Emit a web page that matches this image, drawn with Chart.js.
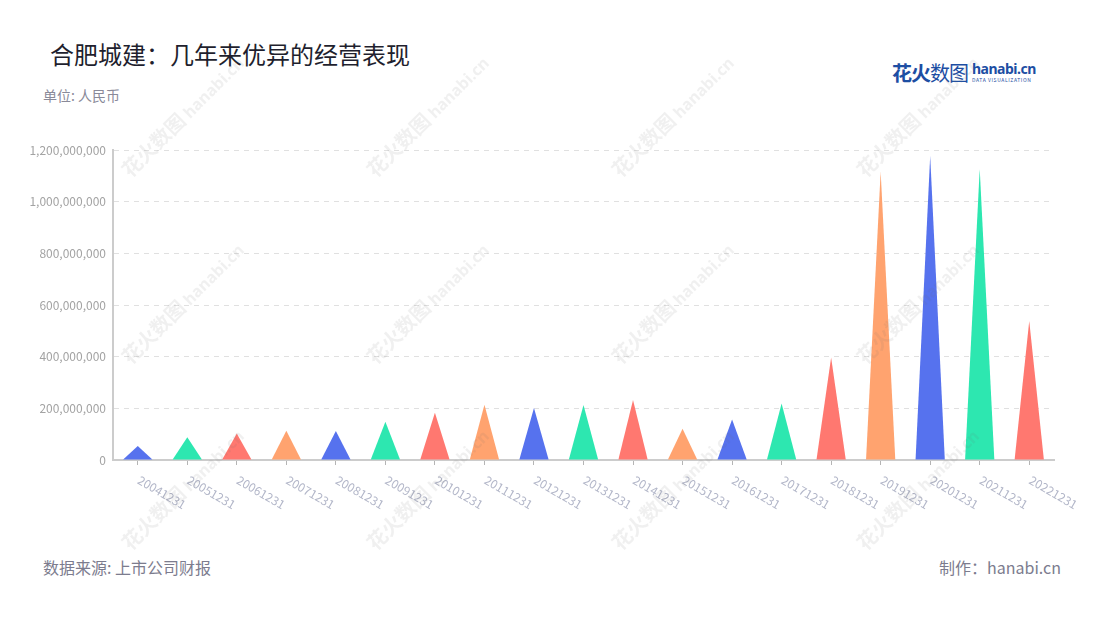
<!DOCTYPE html>
<html>
<head>
<meta charset="utf-8">
<script src="https://cdn.jsdelivr.net/npm/chart.js@4.4.0/dist/chart.umd.min.js"></script>
<style>
    body {
        margin: 0;
        background: #fff;
        font-family: "Noto Sans CJK SC", "Noto Sans", sans-serif;
    }
    .page {
        position: relative;
        width: 1100px;
        height: 620px;
        overflow: hidden;
        background: #fff;
    }
    .title {
        position: absolute;
        left: 50px;
        top: 36px;
        font-size: 24px;
        color: #1f1f2e;
    }
    .unit {
        position: absolute;
        left: 43px;
        top: 85px;
        font-size: 14px;
        color: #8a8a99;
    }
    .logo {
        position: absolute;
        left: 892px;
        top: 58px;
        white-space: nowrap;
        color: #1d4ea3;
    }
    .logo .cn { font-size: 20px; font-weight: bold; letter-spacing: -1px; }
    .logo .cn span { font-weight: normal; }
    .logo .en {
        display: inline-block;
        vertical-align: top;
        margin-left: 4px;
        line-height: 1;
    }
    .logo .en b { font-family: "Noto Sans", sans-serif; font-size: 14px; letter-spacing: -0.5px; display: block; margin-top: 4px; }
    .logo .en i { font-style: normal; font-size: 5px; letter-spacing: 0.6px; display: block; margin-top: 1px; }
    .chart-box {
        position: absolute;
        left: 0;
        top: 130px;
        width: 1100px;
        height: 420px;
    }
    .source {
        position: absolute;
        left: 43px;
        top: 555px;
        font-size: 16px;
        color: #7c7c8e;
    }
    .maker {
        position: absolute;
        right: 39px;
        top: 555px;
        font-size: 16px;
        color: #7c7c8e;
    }
    .wm {
        position: absolute;
        transform-origin: left bottom;
        transform: rotate(-45deg);
        white-space: nowrap;
        color: rgba(110, 110, 110, 0.10);
        pointer-events: none;
        line-height: 1;
    }
    .wm .a { font-size: 20px; font-weight: bold; }
    .wm .b { font-family: "Noto Sans", sans-serif; font-size: 16px; font-weight: bold; margin-left: 4px; }
</style>
</head>
<body>
<div class="page">
    <div class="title">合肥城建：几年来优异的经营表现</div>
    <div class="unit">单位: 人民币</div>
    <div class="logo"><span class="cn">花火<span>数图</span></span><span class="en"><b>hanabi.cn</b><i>DATA VISUALIZATION</i></span></div>
    <div class="chart-box"><canvas id="mainChart"></canvas></div>
    <div class="source">数据来源: 上市公司财报</div>
    <div class="maker">制作：hanabi.cn</div>
    <div id="wmLayer"></div>
</div>
<script>
// data
const categories = ['20041231', '20051231', '20061231', '20071231', '20081231', '20091231', '20101231',
    '20111231', '20121231', '20131231', '20141231', '20151231', '20161231', '20171231', '20181231',
    '20191231', '20201231', '20211231', '20221231'];
const profitValues = [54000000, 88000000, 103000000, 113000000, 112000000, 148000000, 183000000,
    214000000, 201000000, 213000000, 232000000, 121000000, 157000000, 219000000, 397000000,
    1116000000, 1177000000, 1126000000, 538000000];
const yTicks = [0, 200000000, 400000000, 600000000, 800000000, 1000000000, 1200000000];
const palette = ['#5672ee', '#2de7b0', '#ff7870', '#ffa36f'];

// watermark layer
const wmCols = [132, 377, 622, 867];
const wmRows = [180, 367, 553];
const wmLayer = document.getElementById('wmLayer');
wmRows.forEach(y => {
    wmCols.forEach(x => {
        const d = document.createElement('div');
        d.className = 'wm';
        d.style.left = x + 'px';
        d.style.top = (y - 20) + 'px';
        d.innerHTML = '<span class="a">花火数图</span><span class="b">hanabi.cn</span>';
        wmLayer.appendChild(d);
    });
});

// draw each bar as a triangle using the bar element geometry
const trianglePlugin = {
    id: 'triangles',
    afterDatasetsDraw(chart) {
        const ctx = chart.ctx;
        const meta = chart.getDatasetMeta(0);
        meta.data.forEach((bar, i) => {
            const half = bar.width / 2;
            ctx.save();
            ctx.beginPath();
            ctx.moveTo(bar.x - half, bar.base);
            ctx.lineTo(bar.x, bar.y);
            ctx.lineTo(bar.x + half, bar.base);
            ctx.closePath();
            ctx.fillStyle = palette[i % palette.length];
            ctx.fill();
            ctx.restore();
        });
    },
    afterDraw(chart) {
        // rotated category labels running down to the right
        const ctx = chart.ctx;
        const xScale = chart.scales.x;
        ctx.save();
        ctx.font = '12px "Noto Sans CJK SC", "Noto Sans", sans-serif';
        ctx.fillStyle = '#b3b7c9';
        ctx.textAlign = 'left';
        ctx.textBaseline = 'middle';
        categories.forEach((label, i) => {
            const x = xScale.getPixelForTick(i);
            ctx.save();
            ctx.translate(x + 1, xScale.top + 19);
            ctx.rotate(Math.PI / 6);
            ctx.fillText(label, 0, 0);
            ctx.restore();
        });
        ctx.restore();
    }
};

const ctx = document.getElementById('mainChart').getContext('2d');
new Chart(ctx, {
    type: 'bar',
    data: {
        labels: categories,
        datasets: [{
            label: '净利润',
            data: profitValues,
            backgroundColor: 'rgba(0,0,0,0)',
            borderWidth: 0,
            categoryPercentage: 0.59,
            barPercentage: 1
        }]
    },
    options: {
        responsive: true,
        maintainAspectRatio: false,
        animation: false,
        layout: {
            padding: { top: 20, right: 46, left: 0, bottom: 0 }
        },
        plugins: {
            legend: { display: false },
            tooltip: { enabled: false }
        },
        scales: {
            x: {
                afterFit: scale => { scale.height = 90; },
                grid: {
                    display: true,
                    drawOnChartArea: false,
                    drawTicks: true,
                    tickLength: 5,
                    offset: false,
                    color: '#b5b5b5'
                },
                border: { display: true, color: '#cccccc', width: 2 },
                ticks: { display: false }
            },
            y: {
                min: 0,
                max: 1200000000,
                afterFit: scale => { scale.width = 113; },
                afterBuildTicks: scale => {
                    scale.ticks = yTicks.map(v => ({ value: v }));
                },
                grid: {
                    color: '#e0e0e0',
                    drawTicks: false
                },
                border: { display: true, color: '#cccccc', width: 2, dash: [5, 5] },
                ticks: {
                    padding: 7,
                    color: '#a3a3a3',
                    font: { size: 12, family: '"Noto Sans CJK SC", "Noto Sans", sans-serif' },
                    callback: value => value.toLocaleString('en-US')
                }
            }
        }
    },
    plugins: [trianglePlugin]
});
</script>
</body>
</html>
